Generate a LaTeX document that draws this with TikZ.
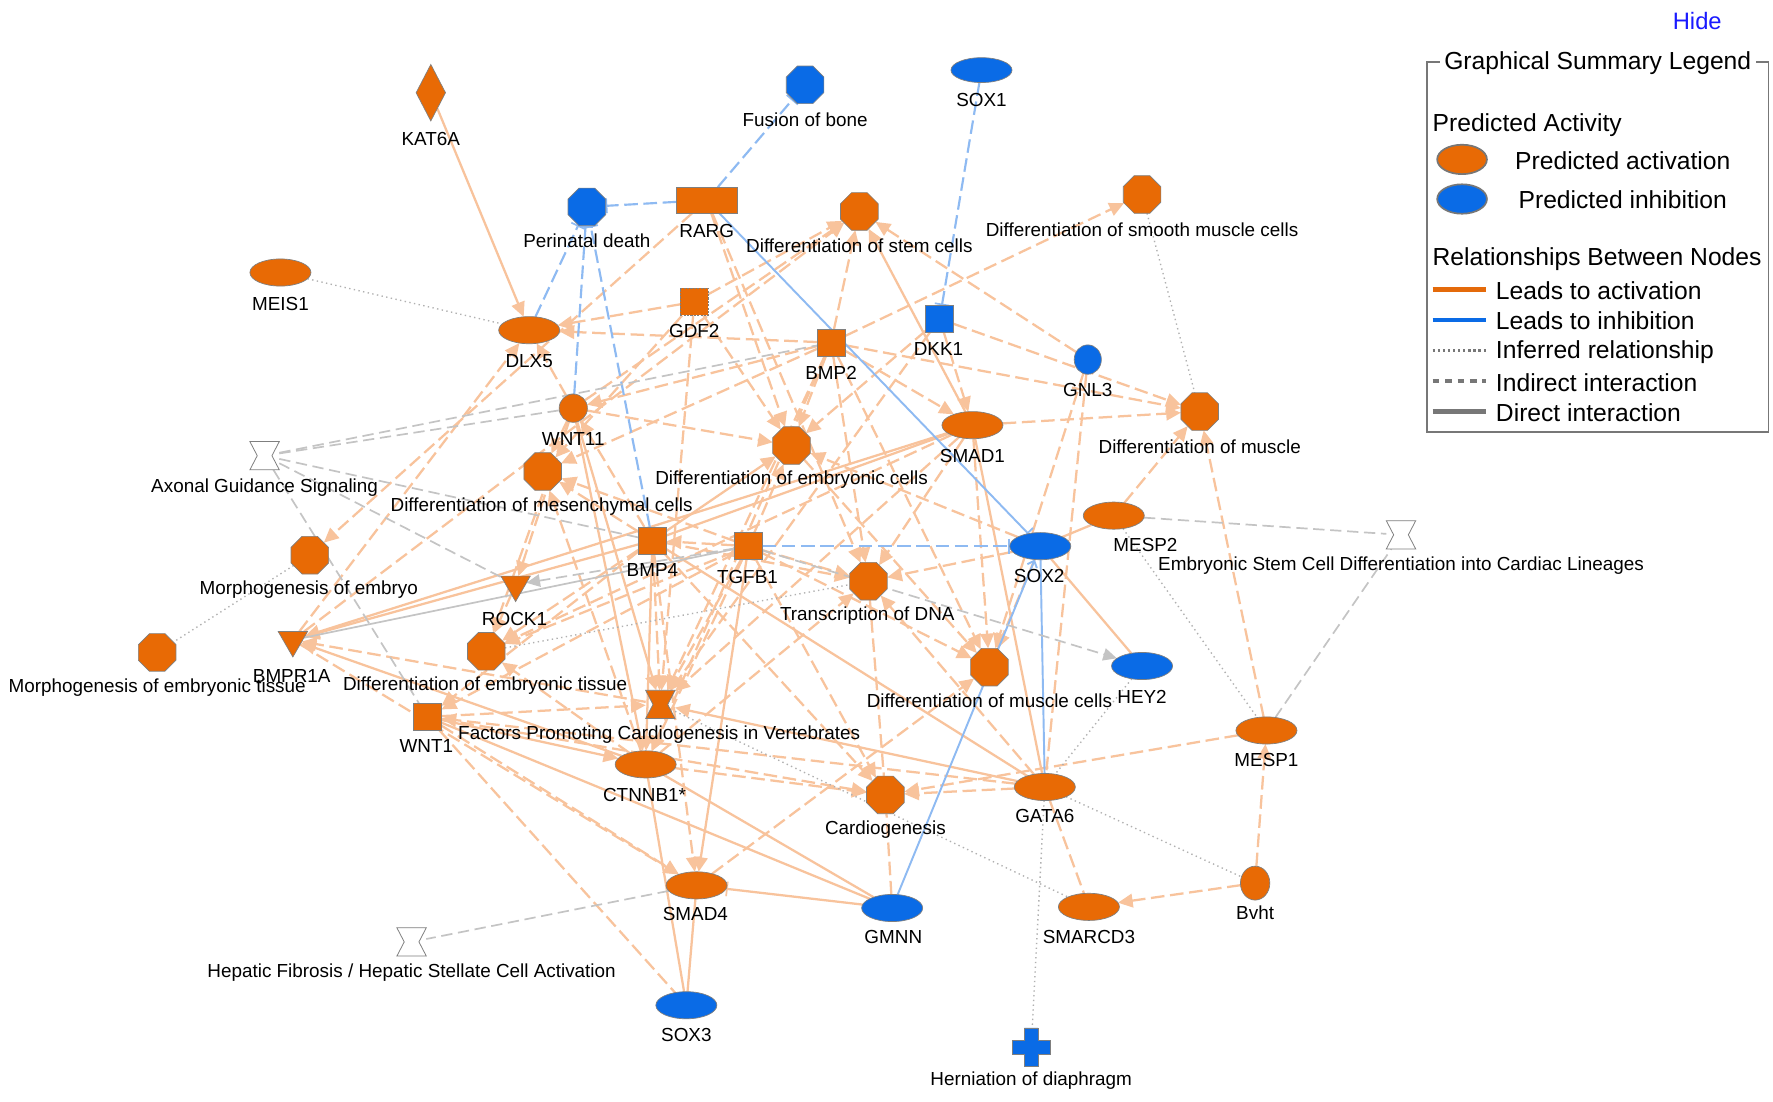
\documentclass[tikz,border=0pt]{standalone}
\usepackage{fontspec}
\setmainfont{Liberation Sans}
\usetikzlibrary{shapes.geometric,arrows.meta,calc}
\definecolor{nodeor}{HTML}{E86A05}
\definecolor{nodebl}{HTML}{0A6BE6}
\definecolor{edgeor}{HTML}{F8C39C}
\definecolor{edgebl}{HTML}{8EBAF2}
\definecolor{edgegr}{HTML}{C4C4C4}
\definecolor{dotgr}{HTML}{B0B0B0}
\definecolor{bordgr}{HTML}{7F7F7F}
\definecolor{leggr}{HTML}{777777}
\definecolor{legor}{HTML}{E46A0A}
\definecolor{hideblue}{HTML}{1A1AFF}
\pgfdeclarelayer{bg}
\pgfsetlayers{bg,main}
\newcommand\hglass[2]{%
  \draw[bordgr,line width=0.7pt,fill=#2] (#1.north west) -- (#1.north east) -- ($(#1.east)!0.25!(#1.west)$) -- (#1.south east) -- (#1.south west) -- ($(#1.west)!0.25!(#1.east)$) -- cycle;}
\newcommand\crossshape[1]{%
  \filldraw[fill=nodebl,draw=bordgr,line width=0.6pt] ($(#1)+(-6pt,17pt)$) -- ($(#1)+(6pt,17pt)$) -- ($(#1)+(6pt,6pt)$) -- ($(#1)+(17pt,6pt)$) -- ($(#1)+(17pt,-6pt)$) -- ($(#1)+(6pt,-6pt)$) -- ($(#1)+(6pt,-17pt)$) -- ($(#1)+(-6pt,-17pt)$) -- ($(#1)+(-6pt,-6pt)$) -- ($(#1)+(-17pt,-6pt)$) -- ($(#1)+(-17pt,6pt)$) -- ($(#1)+(-6pt,6pt)$) -- cycle;}
\begin{document}
\begin{tikzpicture}[x=1pt,y=-1pt,
  every node/.style={inner sep=0pt,outer sep=0pt},
  lab/.style={font=\fontsize{16.7}{19}\selectfont,text=black},
  leg/.style={font=\fontsize{21.8}{25}\selectfont,text=black},
  oct/.style={regular polygon,regular polygon sides=8,minimum size=36pt,draw=bordgr,line width=0.6pt,fill=nodeor},
  ell/.style={ellipse,minimum width=54pt,minimum height=24pt,draw=bordgr,line width=0.6pt,fill=nodeor},
  sq/.style={rectangle,minimum width=25pt,minimum height=24pt,draw=bordgr,line width=0.6pt,fill=nodeor},
  tri/.style={regular polygon,regular polygon sides=3,shape border rotate=180,minimum size=30pt,draw=bordgr,line width=0.6pt,fill=nodeor},
  hgbox/.style={rectangle,minimum width=26pt,minimum height=25pt},
  blu/.style={fill=nodebl},
  E/.style={line width=2pt,edgeor},
  tip/.style={-{Triangle[length=13pt,width=12pt]}},
  ia/.style={E,dash pattern=on 12pt off 5pt,tip},
  da/.style={E,tip},
  idn/.style={E,dash pattern=on 12pt off 5pt},
  dd/.style={E},
  ob/.style={E,-{Bar[width=13pt,line width=1.5pt]}},
  bi/.style={line width=1.9pt,edgebl,dash pattern=on 12pt off 5pt,-{Bar[width=13pt,line width=1.5pt]}},
  bdb/.style={line width=1.7pt,edgebl,-{Bar[width=13pt,line width=1.5pt]}},
  bd/.style={line width=1.7pt,edgebl},
  bda/.style={line width=1.7pt,edgebl,-{Straight Barb[length=5pt,width=9pt]}},
  gi/.style={line width=1.5pt,edgegr,dash pattern=on 10pt off 5pt},
  gia/.style={gi,-{Triangle[length=12pt,width=11pt]}},
  gd/.style={line width=1.5pt,edgegr},
  dt/.style={line width=1.2pt,dotgr,dash pattern=on 1.2pt off 3pt}
]
\begin{pgfonlayer}{bg}
\fill[white] (0,0) rectangle (1568,974);
\end{pgfonlayer}
\useasboundingbox (0,0) rectangle (1568,974);

% ---------- nodes ----------
\node[diamond,minimum width=26pt,minimum height=50pt,draw=bordgr,line width=0.6pt,fill=nodeor] (kat) at (381,82) {};
\node[oct,blu] (fob) at (712,75) {};
\node[ell,blu,minimum height=22pt] (sox1) at (868,62) {};
\node[oct,blu] (pd) at (519,183) {};
\node[rectangle,minimum width=54pt,minimum height=23pt,draw=bordgr,line width=0.6pt,fill=nodeor] (rarg) at (625,177) {};
\node[oct] (dsc) at (760,187) {};
\node[oct] (dsm) at (1010,172) {};
\node[ell] (meis) at (248,241) {};
\node[sq,dash pattern=on 2pt off 1pt] (gdf2) at (614,267) {};
\node[ell] (dlx5) at (468,292) {};
\node[sq] (bmp2) at (735,303) {};
\node[sq,blu] (dkk1) at (831,282) {};
\node[ellipse,minimum width=24pt,minimum height=26pt,draw=bordgr,line width=0.6pt,fill=nodebl] (gnl3) at (962,318) {};
\node[ellipse,minimum width=25pt,minimum height=25pt,draw=bordgr,line width=0.6pt,fill=nodeor] (wnt11) at (507,361) {};
\node[oct] (dmu) at (1061,364) {};
\node[ell] (smad1) at (860,376) {};
\node[oct] (dec) at (700,394) {};
\node[hgbox] (ags) at (234,403) {};
\node[oct] (dmc) at (480,417) {};
\node[ell] (mesp2) at (985,456) {};
\node[hgbox] (escd) at (1239,473) {};
\node[sq] (bmp4) at (577,478) {};
\node[sq] (tgfb1) at (662,483) {};
\node[ell,blu] (sox2) at (920,483) {};
\node[oct] (moe) at (274,491) {};
\node[oct] (tod) at (768,514) {};
\node[tri] (rock1) at (456,517) {};
\node[ell,blu] (hey2) at (1010,589) {};
\node[oct] (dmuc) at (875,590) {};
\node[oct] (mot) at (139,577) {};
\node[tri] (bmpr1a) at (259,566) {};
\node[oct] (det) at (430,576) {};
\node[hgbox] (fpc) at (584,623) {};
\node[sq] (wnt1) at (378,634) {};
\node[ell] (mesp1) at (1120,646) {};
\node[ell] (ctnnb1) at (571,676) {};
\node[ell] (gata6) at (924,696) {};
\node[oct] (card) at (783,703) {};
\node[ell] (smad4) at (616,783) {};
\node[ellipse,minimum width=26pt,minimum height=30pt,draw=bordgr,line width=0.6pt,fill=nodeor] (bvht) at (1110,781) {};
\node[ell,blu] (gmnn) at (789,803) {};
\node[ell] (smarcd3) at (963,802) {};
\node[hgbox] (hf) at (364,833) {};
\node[ell,blu] (sox3) at (607,889) {};
\node[rectangle,minimum width=34pt,minimum height=34pt] (hern) at (912,926) {};

\hglass{ags}{white}
\hglass{escd}{white}
\hglass{hf}{white}
\hglass{fpc}{nodeor}
\crossshape{hern}

% ---------- labels ----------
\node[lab] (l-kat) at (381,123) {KAT6A};
\node[lab] (l-fob) at (712,106) {Fusion of bone};
\node[lab] (l-sox1) at (868,88) {SOX1};
\node[lab] (l-pd) at (519,213) {Perinatal death};
\node[lab] (l-rarg) at (625,204) {RARG};
\node[lab] (l-dsc) at (760,217) {Differentiation of stem cells};
\node[lab] (l-dsm) at (1010,203) {Differentiation of smooth muscle cells};
\node[lab] (l-meis) at (248,269) {MEIS1};
\node[lab] (l-gdf2) at (614,293) {GDF2};
\node[lab] (l-dlx5) at (468,319) {DLX5};
\node[lab] (l-bmp2) at (735,330) {BMP2};
\node[lab] (l-dkk1) at (830,309) {DKK1};
\node[lab] (l-gnl3) at (962,345) {GNL3};
\node[lab] (l-wnt11) at (507,388) {WNT11};
\node[lab] (l-dmu) at (1061,395) {Differentiation of muscle};
\node[lab] (l-smad1) at (860,403) {SMAD1};
\node[lab] (l-dec) at (700,424) {Differentiation of embryonic cells};
\node[lab] (l-ags) at (234,431) {Axonal Guidance Signaling};
\node[lab] (l-dmc) at (479,448) {Differentiation of mesenchymal cells};
\node[lab] (l-mesp2) at (1013,482) {MESP2};
\node[lab] (l-escd) at (1239,500) {Embryonic Stem Cell Differentiation into Cardiac Lineages};
\node[lab] (l-bmp4) at (577,504) {BMP4};
\node[lab] (l-tgfb1) at (661,510) {TGFB1};
\node[lab] (l-sox2) at (919,509) {SOX2};
\node[lab] (l-moe) at (273,521) {Morphogenesis of embryo};
\node[lab] (l-tod) at (767,544) {Transcription of DNA};
\node[lab] (l-rock1) at (455,547) {ROCK1};
\node[lab] (l-hey2) at (1010,616) {HEY2};
\node[lab] (l-dmuc) at (875,620) {Differentiation of muscle cells};
\node[lab] (l-mot) at (139,608) {Morphogenesis of embryonic tissue};
\node[lab] (l-bmpr1a) at (258,598) {BMPR1A};
\node[lab] (l-det) at (429,606) {Differentiation of embryonic tissue};
\node[lab] (l-fpc) at (583,650) {Factors Promoting Cardiogenesis in Vertebrates};
\node[lab] (l-wnt1) at (377,660) {WNT1};
\node[lab] (l-mesp1) at (1120,672) {MESP1};
\node[lab] (l-ctnnb1) at (570,703) {CTNNB1*};
\node[lab] (l-gata6) at (924,722) {GATA6};
\node[lab] (l-card) at (783,734) {Cardiogenesis};
\node[lab] (l-smad4) at (615,808) {SMAD4};
\node[lab] (l-bvht) at (1110,807) {Bvht};
\node[lab] (l-gmnn) at (790,829) {GMNN};
\node[lab] (l-smarcd3) at (963,829) {SMARCD3};
\node[lab] (l-hf) at (364,860) {Hepatic Fibrosis / Hepatic Stellate Cell Activation};
\node[lab] (l-sox3) at (607,915) {SOX3};
\node[lab] (l-hern) at (912,956) {Herniation of diaphragm};

% ---------- edges ----------
\begin{pgfonlayer}{bg}
% orange
\draw[da] (kat) -- (dlx5);
\draw[ia] (gdf2) -- (dlx5);
\draw[ia] (bmp2) -- (dlx5);
\draw[ia] (wnt11) -- (dlx5);
\draw[ia] (bmpr1a) -- (dlx5);
\draw[ia] (rarg) -- (moe);
\draw[ia] (rarg) -- (dec);
\draw[ia] (rarg) -- (tod);
\draw[ia] (gdf2) -- (dsc);
\draw[ia] (gdf2) -- (dec);
\draw[ia] (gdf2) -- (fpc);
\draw[ia] (gdf2) -- (dmc);
\draw[ia] (bmp2) -- (dsc);
\draw[ia] (bmp2) -- (dsm);
\draw[ia] (bmp2) -- (dec);
\draw[ia] (bmp2) -- (dmu);
\draw[ia] (bmp2) -- (wnt11);
\draw[ia] (bmp2) -- (dmc);
\draw[ia] (bmp2) -- (smad1);
\draw[ia] (bmp2) -- (tod);
\draw[ia] (bmp2) -- (fpc);
\draw[ia] (bmp2) -- (dmuc);
\draw[ia] (bmp2) -- (ctnnb1);
\draw[da] (smad1) -- (dsc);
\draw[ia] (dkk1) -- (dmu);
\draw[ia] (dkk1) -- (dec);
\draw[ia] (dkk1) -- (smad1);
\draw[ia] (dkk1) -- (fpc);
\draw[ia] (gnl3) -- (dsc);
\draw[ia] (gnl3) -- (dmuc);
\draw[idn] (gnl3) -- (gata6);
\draw[ia] (wnt11) -- (dmc);
\draw[ia] (wnt11) -- (dec);
\draw[ia] (wnt11) -- (det);
\draw[da] (wnt11) -- (fpc);
\draw[da] (wnt11) -- (ctnnb1);
\draw[ia] (wnt11) -- (rock1);
\draw[ia] (wnt11) -- (dsc);
\draw[ia] (smad1) -- (dmu);
\draw[da] (smad1) -- (bmpr1a);
\draw[ia] (smad1) -- (tod);
\draw[ia] (smad1) -- (dmuc);
\draw[dd] (smad1) -- (gata6);
\draw[ia] (smad1) -- (det);
\draw[ia] (smad1) -- (fpc);
\draw[da] (bmp4) -- (dec);
\draw[ia] (tgfb1) -- (dec);
\draw[ia] (sox2) -- (dec);
\draw[ia] (bmp4) -- (dmc);
\draw[ia] (tgfb1) -- (dmc);
\draw[ia] (ctnnb1) -- (dmc);
\draw[da] (bmp4) -- (bmpr1a);
\draw[ia] (bmp4) -- (fpc);
\draw[da] (bmp4) -- (ctnnb1);
\draw[ia] (bmp4) -- (smad4);
\draw[ia] (bmp4) -- (det);
\draw[ia] (bmp4) -- (wnt1);
\draw[ia] (bmp4) -- (tod);
\draw[dd] (bmp4) -- (gata6);
\draw[ia] (bmp4) -- (card);
\draw[ia] (tgfb1) -- (bmp4);
\draw[ia] (bmp4) -- (wnt11);
\draw[dd] (bmp4) -- (smad1);
\draw[ia] (tgfb1) -- (fpc);
\draw[da] (tgfb1) -- (smad4);
\draw[ia] (tgfb1) -- (tod);
\draw[ia] (tgfb1) -- (ctnnb1);
\draw[ia] (tgfb1) -- (dmuc);
\draw[ia] (tgfb1) -- (det);
\draw[ia] (tgfb1) -- (card);
\draw[ia] (tgfb1) -- (wnt1);
\draw[ia] (rock1) -- (det);
\draw[ia] (fpc) -- (bmpr1a);
\draw[da] (ctnnb1) -- (bmpr1a);
\draw[ia] (bmpr1a) -- (smad4);
\draw[ia] (bmpr1a) -- (dsc);
\draw[da] (wnt1) -- (ctnnb1);
\draw[ia] (wnt1) -- (fpc);
\draw[ia] (wnt1) -- (smad4);
\draw[idn] (wnt1) -- (sox3);
\draw[ia] (wnt1) -- (card);
\draw[ia] (gata6) -- (wnt1);
\draw[ia] (ctnnb1) -- (det);
\draw[da] (gata6) -- (fpc);
\draw[ia] (ctnnb1) -- (card);
\draw[dd] (ctnnb1) -- (sox3);
\draw[dd] (gmnn) -- (ctnnb1);
\draw[dd] (gmnn) -- (wnt1);
\draw[ob] (gmnn) -- (smad4);
\draw[dd] (smad4) -- (sox3);
\draw[ia] (smad4) -- (dmuc);
\draw[ia] (gata6) -- (card);
\draw[ia] (mesp1) -- (card);
\draw[idn] (gmnn) -- (card);
\draw[ia] (sox2) -- (tod);
\draw[ia] (sox2) -- (dmuc);
\draw[dd] (sox2) -- (hey2);
\draw[dd] (sox2) -- (mesp2);
\draw[ia] (gata6) -- (tod);
\draw[ia] (ctnnb1) -- (tod);
\draw[idn] (tod) -- (card);
\draw[ia] (mesp2) -- (dmu);
\draw[ia] (mesp1) -- (dmu);
\draw[ia] (bvht) -- (smarcd3);
\draw[ia] (bvht) -- (mesp1);
\draw[idn] (gata6) -- (smarcd3);
\draw[ia] (dec) -- (dmuc);
% blue
\draw[bi] (rarg) -- (pd);
\draw[bi] (rarg) -- (fob);
\draw[bi] (sox1) -- (dkk1);
\draw[bi] (dlx5) -- (pd);
\draw[bi] (wnt11) -- (pd);
\draw[bi] (bmp4) -- (pd);
\draw[bi] (tgfb1) -- (sox2);
\draw[bdb] (rarg) -- (sox2);
\draw[bda] (gmnn) -- (sox2);
\draw[bd] (gata6) -- (sox2);
% gray
\draw[gi] (ags) -- (bmp2);
\draw[gi] (ags) -- (wnt11);
\draw[gi] (ags) -- (bmp4);
\draw[gi] (ags) -- (rock1);
\draw[gi] (ags) -- (wnt1);
\draw[gia] (tgfb1) -- (rock1);
\draw[gd] (tgfb1) -- (bmpr1a);
\draw[gia] (tgfb1) -- (hey2);
\draw[gi] (mesp2) -- (escd);
\draw[gi] (mesp1) -- (escd);
\draw[gi] (smad4) -- (hf);
% dotted
\draw[dt] (meis) -- (dlx5);
\draw[dt] (moe) -- (mot);
\draw[dt] (dsm) -- (dmu);
\draw[dt] (mesp2) -- (mesp1);
\draw[dt] (hey2) -- (gata6);
\draw[dt] (gata6) -- (bvht);
\draw[dt] (gata6) -- (hern);
\draw[dt] (fpc) -- (smarcd3);
\draw[dt] (det) -- (tod);
\end{pgfonlayer}

% ---------- legend ----------
\node[text=hideblue,font=\fontsize{21}{24}\selectfont] (hide) at (1501,19) {Hide};
\node[draw=leggr,line width=1.5pt,minimum width=302pt,minimum height=327pt] (legbox) at (1413,218.5) {};
\node[leg,fill=white,inner xsep=4pt,inner ysep=2pt] (legt) at (1413,56) {Graphical Summary Legend};
\node[leg,anchor=west] (legpa) at (1267,111) {Predicted Activity};
\node[ellipse,minimum width=44pt,minimum height=26pt,fill=nodeor,draw=leggr,line width=1.5pt] (lego) at (1293,141) {};
\node[ellipse,minimum width=44pt,minimum height=26pt,fill=nodebl,draw=leggr,line width=1.5pt] (legb) at (1293,176) {};
\node[leg,anchor=west] (legpact) at (1340,142) {Predicted activation};
\node[leg,anchor=west] (legpinh) at (1343,177) {Predicted inhibition};
\node[leg,anchor=west] (legrel) at (1267,229) {Relationships Between Nodes};
\coordinate (la1) at (1267,256); \coordinate (lb1) at (1314,256);
\coordinate (la2) at (1267,283); \coordinate (lb2) at (1314,283);
\coordinate (la3) at (1267,310); \coordinate (lb3) at (1314,310);
\coordinate (la4) at (1267,337); \coordinate (lb4) at (1314,337);
\coordinate (la5) at (1267,364); \coordinate (lb5) at (1314,364);
\draw[legor,line width=4pt] (la1) -- (lb1);
\draw[nodebl,line width=4pt] (la2) -- (lb2);
\draw[leggr,line width=3pt,dash pattern=on 2pt off 2.5pt] (la3) -- (lb3);
\draw[leggr,line width=3pt,dash pattern=on 6pt off 5pt] (la4) -- (lb4);
\draw[leggr,line width=4.5pt] (la5) -- (lb5);
\node[leg,anchor=west] (legt1) at (1323,257) {Leads to activation};
\node[leg,anchor=west] (legt2) at (1323,284) {Leads to inhibition};
\node[leg,anchor=west] (legt3) at (1323,311) {Inferred relationship};
\node[leg,anchor=west] (legt4) at (1323,338) {Indirect interaction};
\node[leg,anchor=west] (legt5) at (1323,365) {Direct interaction};
\end{tikzpicture}
\end{document}
